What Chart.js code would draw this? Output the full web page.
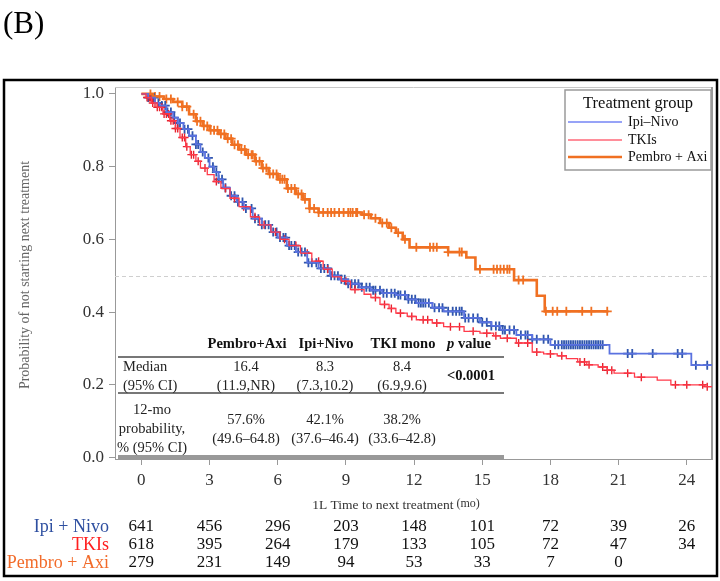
<!DOCTYPE html>
<html>
<head>
<meta charset="utf-8">
<script src="https://cdn.jsdelivr.net/npm/chart.js@4.4.1/dist/chart.umd.min.js"></script>
<style>
  html, body { margin: 0; padding: 0; background: #fff; }
  #wrap { width: 720px; height: 581px; }
</style>
</head>
<body>
<div id="wrap"><canvas id="kmChart" width="720" height="581"></canvas></div>
<script>
// KM steps: time (mo) where the curve drops, and the value after the drop
const ipiTimes = [0, 0.3, 0.6, 0.8, 1.1, 1.4, 1.6, 1.85, 2.1, 2.4, 2.6, 2.8, 3.0, 3.2, 3.4, 3.6, 3.9, 4.2, 4.5, 4.9, 5.3, 5.7, 6.0, 6.4, 6.8, 7.3, 7.8, 8.3, 8.7, 9.1, 9.6, 10.1, 10.6, 11.2, 11.7, 12.1, 12.8, 13.3, 14.2, 14.9, 15.4, 15.8, 16.5, 17.2, 18.0, 20.6, 24.2, 25.15];
const ipiSurv  = [1.0, 0.99, 0.975, 0.968, 0.95, 0.935, 0.92, 0.903, 0.885, 0.861, 0.84, 0.824, 0.80, 0.785, 0.765, 0.742, 0.72, 0.703, 0.685, 0.657, 0.64, 0.62, 0.605, 0.583, 0.565, 0.536, 0.52, 0.50, 0.49, 0.478, 0.468, 0.46, 0.452, 0.447, 0.435, 0.425, 0.412, 0.402, 0.384, 0.372, 0.362, 0.351, 0.337, 0.325, 0.31, 0.286, 0.254, 0.254];

const tkiTimes = [0, 0.2, 0.45, 0.7, 0.95, 1.25, 1.5, 1.7, 1.95, 2.15, 2.4, 2.6, 2.9, 3.2, 3.5, 3.9, 4.3, 4.8, 5.2, 5.7, 6.1, 6.5, 7.0, 7.5, 8.0, 8.4, 8.8, 9.2, 9.8, 10.1, 10.5, 10.9, 11.2, 11.7, 12.1, 12.8, 13.3, 14.2, 14.9, 15.5, 15.8, 16.5, 17.2, 17.7, 18.3, 18.7, 19.2, 19.6, 20.1, 20.5, 20.8, 21.7, 22.7, 23.3, 24.8, 25.15];
const tkiSurv  = [1.0, 0.99, 0.975, 0.963, 0.945, 0.926, 0.905, 0.88, 0.855, 0.833, 0.815, 0.796, 0.778, 0.759, 0.74, 0.713, 0.69, 0.662, 0.64, 0.62, 0.6, 0.583, 0.562, 0.54, 0.518, 0.497, 0.485, 0.462, 0.449, 0.44, 0.421, 0.41, 0.397, 0.388, 0.379, 0.37, 0.36, 0.347, 0.342, 0.335, 0.328, 0.315, 0.29, 0.285, 0.28, 0.272, 0.263, 0.255, 0.249, 0.24, 0.232, 0.221, 0.213, 0.2, 0.195, 0.195];

const pembroTimes = [0, 0.5, 1.0, 1.4, 1.8, 2.1, 2.4, 2.7, 3.0, 3.4, 3.7, 4.0, 4.3, 4.6, 5.0, 5.3, 5.6, 6.0, 6.4, 6.8, 7.1, 7.4, 7.8, 9.7, 10.1, 10.5, 10.9, 11.2, 11.5, 11.8, 13.5, 14.3, 14.7, 16.4, 17.4, 17.75, 20.55];
const pembroSurv  = [1.0, 0.993, 0.986, 0.978, 0.965, 0.944, 0.925, 0.912, 0.9, 0.89, 0.877, 0.86, 0.847, 0.833, 0.815, 0.796, 0.78, 0.765, 0.74, 0.725, 0.71, 0.685, 0.674, 0.668, 0.658, 0.645, 0.632, 0.618, 0.6, 0.578, 0.565, 0.55, 0.518, 0.488, 0.445, 0.402, 0.402];

// censor times (mo)
const ipiCensor = [0.3, 0.45, 0.55, 0.75, 0.9, 1.05, 1.15, 1.3, 1.45, 1.6, 1.7, 1.9, 2.05, 2.25, 2.4, 2.5, 2.7, 2.95, 3.15, 3.3, 3.4, 3.55, 3.7, 3.95, 4.1, 4.25, 4.45, 4.6, 4.85, 5.0, 5.15, 5.3, 5.45, 5.6, 5.8, 5.95, 6.1, 6.25, 6.35, 6.5, 6.6, 6.75, 6.9, 7.05, 7.2, 7.35, 7.5, 7.7, 7.9, 8.05, 8.2, 8.35, 8.5, 8.65, 8.8, 8.95, 9.1, 9.25, 9.4, 9.55, 9.7, 9.9, 10.05, 10.2, 10.3, 10.5, 10.65, 10.8, 11.0, 11.15, 11.3, 11.4, 11.6, 11.75, 11.9, 12.05, 12.2, 12.3, 12.4, 12.5, 12.65, 12.9, 13.1, 13.25, 13.5, 13.7, 13.85, 14.0, 14.1, 14.25, 14.4, 14.6, 14.8, 15.0, 15.2, 15.4, 15.6, 15.75, 15.9, 16.0, 16.2, 16.4, 16.7, 16.9, 17.0, 17.2, 17.4, 17.7, 17.9, 18.2, 18.35, 18.5, 18.6, 18.7, 18.8, 18.9, 19.0, 19.1, 19.2, 19.3, 19.4, 19.5, 19.6, 19.7, 19.8, 19.9, 20.0, 20.1, 20.2, 20.3, 21.4, 21.6, 22.5, 23.6, 23.8, 24.4, 24.9];
const tkiCensor = [0.25, 0.35, 0.4, 0.5, 0.6, 0.7, 0.8, 0.9, 1.0, 1.1, 1.2, 1.3, 1.4, 1.5, 1.6, 1.8, 1.9, 2.0, 2.2, 2.3, 2.5, 2.8, 3.3, 3.7, 4.1, 4.5, 5.0, 5.4, 5.9, 6.3, 6.8, 7.3, 7.8, 8.2, 9.0, 9.4, 10.3, 10.7, 11.0, 11.4, 11.9, 12.4, 12.6, 13.0, 13.6, 14.0, 14.6, 15.2, 15.6, 16.1, 16.6, 17.0, 17.4, 18.0, 18.5, 19.3, 19.5, 19.7, 20.3, 20.5, 20.7, 21.4, 22.0, 23.5, 24.0, 24.7, 24.9];
const pembroCensor = [0.4, 0.6, 0.8, 1.1, 1.3, 1.6, 1.8, 2.0, 2.3, 2.45, 2.6, 2.75, 2.9, 3.05, 3.2, 3.35, 3.5, 3.65, 3.8, 3.95, 4.1, 4.25, 4.4, 4.55, 4.7, 4.85, 4.9, 5.05, 5.2, 5.35, 5.5, 5.65, 5.8, 5.95, 6.1, 6.2, 6.3, 6.45, 6.6, 6.75, 6.9, 7.05, 7.2, 7.4, 7.6, 7.8, 8.0, 8.2, 8.35, 8.5, 8.7, 8.9, 9.1, 9.2, 9.3, 9.45, 9.5, 9.8, 10.0, 10.3, 10.6, 10.8, 11.0, 11.3, 11.6, 12.1, 12.7, 12.85, 13.0, 13.5, 14.0, 14.1, 14.9, 15.5, 15.65, 15.8, 15.95, 16.1, 16.2, 16.6, 16.8, 17.8, 18.1, 18.3, 18.7, 19.4, 19.8, 20.5];

const xTicks = [0, 3, 6, 9, 12, 15, 18, 21, 24];
const yTicks = [0, 0.2, 0.4, 0.6, 0.8, 1.0];

// numbers at risk
const riskLabels = ['Ipi + Nivo', 'TKIs', 'Pembro + Axi'];
const riskIpi = [641, 456, 296, 203, 148, 101, 72, 39, 26];
const riskTki = [618, 395, 264, 179, 133, 105, 72, 47, 34];
const riskPembro = [279, 231, 149, 94, 53, 33, 7, 0];

// inset summary table
const tableHeads = ['Pembro+Axi', 'Ipi+Nivo', 'TKI mono'];
const medianVals = ['16.4', '8.3', '8.4'];
const medianCIs = ['(11.9,NR)', '(7.3,10.2)', '(6.9,9.6)'];
const probVals = ['57.6%', '42.1%', '38.2%'];
const probCIs = ['(49.6–64.8)', '(37.6–46.4)', '(33.6–42.8)'];
const pValue = '<0.0001';

const SERIF = "'Liberation Serif', 'Times New Roman', serif";
const BLUE = '#5a72e0', BLUE_MARK = '#2f55ac';
const RED = '#ff3a4a', RED_MARK = '#e8222e';
const ORANGE = '#f07022';

function toPoints(ts, ss) {
    return ts.map((t, i) => ({ x: t, y: ss[i] }));
}

function stepAt(ts, ss, t) {
    let v = ss[0];
    for (let i = 0; i < ts.length; i++) {
        if (ts[i] <= t) v = ss[i];
    }
    return v;
}

function censorPoints(cs, ts, ss) {
    return cs.map(t => ({ x: t, y: stepAt(ts, ss, t) }));
}

function curve(label, ts, ss, color, width) {
    return {
        label: label, data: toPoints(ts, ss), borderColor: color, borderWidth: width,
        stepped: true, pointRadius: 0, fill: false
    };
}

function marks(cs, ts, ss, color, r, w) {
    return {
        data: censorPoints(cs, ts, ss), showLine: false, pointStyle: 'cross',
        pointRadius: r, pointBorderWidth: w, borderColor: color, backgroundColor: color
    };
}

function font(size, weight, style) {
    return (style || '') + ' ' + (weight || '') + ' ' + size + 'px ' + SERIF;
}

const decorPlugin = {
    id: 'decor',
    beforeDraw(chart) {
        const ctx = chart.ctx;
        ctx.save();
        ctx.fillStyle = '#fff';
        ctx.fillRect(0, 0, chart.width, chart.height);
        ctx.restore();
    },
    beforeDatasetsDraw(chart) {
        const ctx = chart.ctx, a = chart.chartArea, y = chart.scales.y;
        ctx.save();
        // reference line at 0.5
        ctx.strokeStyle = '#cfcfcf';
        ctx.lineWidth = 1;
        ctx.setLineDash([4, 3]);
        const yp = Math.round(y.getPixelForValue(0.5)) + 0.5;
        ctx.beginPath(); ctx.moveTo(a.left, yp); ctx.lineTo(a.right, yp); ctx.stroke();
        ctx.setLineDash([]);
        // top and right border of plot area
        ctx.strokeStyle = '#c8c8c8';
        ctx.beginPath(); ctx.moveTo(a.left, a.top + 0.5); ctx.lineTo(a.right, a.top + 0.5); ctx.stroke();
        ctx.strokeStyle = '#999';
        ctx.lineWidth = 2;
        ctx.beginPath(); ctx.moveTo(a.right, a.top); ctx.lineTo(a.right, a.bottom); ctx.stroke();
        ctx.restore();
    },
    afterDraw(chart) {
        const ctx = chart.ctx, xs = chart.scales.x;
        ctx.save();

        // panel label
        ctx.fillStyle = '#000';
        ctx.font = font(31);
        ctx.textAlign = 'left';
        ctx.textBaseline = 'alphabetic';
        ctx.fillText('(B)', 3, 33);

        // outer frame
        ctx.strokeStyle = '#000';
        ctx.lineWidth = 2.5;
        ctx.strokeRect(4, 80, 713, 496);

        // inset table
        const cols = [247, 326, 403];
        ctx.fillStyle = '#111';
        ctx.textBaseline = 'middle';
        ctx.textAlign = 'center';
        ctx.font = font(14.5, 'bold');
        tableHeads.forEach((h, i) => ctx.fillText(h, cols[i], 344));
        // "p value" with italic p
        ctx.font = font(14.5, 'bold', 'italic');
        const pw = ctx.measureText('p').width;
        ctx.font = font(14.5, 'bold');
        const vw = ctx.measureText(' value').width;
        const px0 = 469 - (pw + vw) / 2;
        ctx.textAlign = 'left';
        ctx.font = font(14.5, 'bold', 'italic');
        ctx.fillText('p', px0, 344);
        ctx.font = font(14.5, 'bold');
        ctx.fillText(' value', px0 + pw, 344);

        ctx.strokeStyle = '#777';
        ctx.lineWidth = 2;
        ctx.beginPath(); ctx.moveTo(118, 357); ctx.lineTo(504, 357); ctx.stroke();
        ctx.beginPath(); ctx.moveTo(118, 393); ctx.lineTo(504, 393); ctx.stroke();
        ctx.strokeStyle = '#999';
        ctx.lineWidth = 4;
        ctx.beginPath(); ctx.moveTo(118, 457); ctx.lineTo(504, 457); ctx.stroke();

        ctx.font = font(14.5);
        ctx.fillStyle = '#222';
        ctx.textAlign = 'left';
        ctx.fillText('Median', 123, 367);
        ctx.fillText('(95% CI)', 123, 386);
        ctx.textAlign = 'center';
        medianVals.forEach((v, i) => ctx.fillText(v, cols[i] - 1, 367));
        medianCIs.forEach((v, i) => ctx.fillText(v, cols[i] - 1, 386));
        ctx.fillText('12-mo', 152, 410);
        ctx.fillText('probability,', 152, 429);
        ctx.fillText('% (95% CI)', 152, 448);
        probVals.forEach((v, i) => ctx.fillText(v, cols[i] - 1, 420));
        probCIs.forEach((v, i) => ctx.fillText(v, cols[i] - 1, 439));
        ctx.font = font(14.5, 'bold');
        ctx.fillStyle = '#111';
        ctx.fillText(pValue, 471, 376);

        // legend
        ctx.strokeStyle = '#9a9a9a';
        ctx.lineWidth = 1.5;
        ctx.strokeRect(565, 90, 146, 80);
        ctx.fillStyle = '#111';
        ctx.font = font(16.5);
        ctx.textAlign = 'center';
        ctx.fillText('Treatment group', 638, 104);
        const legendRows = [
            { text: 'Ipi–Nivo', color: '#7585f5', width: 1.5, y: 122 },
            { text: 'TKIs', color: '#ff6878', width: 1.5, y: 140 },
            { text: 'Pembro + Axi', color: ORANGE, width: 2.5, y: 157 }
        ];
        ctx.font = font(14);
        ctx.textAlign = 'left';
        legendRows.forEach(r => {
            ctx.strokeStyle = r.color;
            ctx.lineWidth = r.width;
            ctx.beginPath(); ctx.moveTo(568, r.y); ctx.lineTo(622, r.y); ctx.stroke();
            ctx.fillStyle = '#111';
            ctx.fillText(r.text, 628, r.y);
        });

        // y axis title
        ctx.save();
        ctx.translate(25, 275);
        ctx.rotate(-Math.PI / 2);
        ctx.fillStyle = '#666';
        ctx.font = font(14);
        ctx.textAlign = 'center';
        ctx.fillText('Probability of not starting next treatment', 0, 0);
        ctx.restore();

        // x axis title
        ctx.fillStyle = '#333';
        ctx.font = font(13.5);
        const t1 = '1L Time to next treatment';
        const w1 = ctx.measureText(t1).width;
        ctx.font = font(12);
        const t2 = ' (mo)';
        const w2 = ctx.measureText(t2).width;
        const tx0 = 396 - (w1 + w2) / 2;
        ctx.textAlign = 'left';
        ctx.font = font(13.5);
        ctx.fillText(t1, tx0, 505);
        ctx.font = font(12);
        ctx.fillText(t2, tx0 + w1, 504);

        // numbers at risk
        const riskRows = [
            { vals: riskIpi, color: '#2e4fa0', y: 527 },
            { vals: riskTki, color: '#ff1f1f', y: 545 },
            { vals: riskPembro, color: '#f26b2a', y: 563 }
        ];
        riskRows.forEach((r, i) => {
            ctx.font = font(18);
            ctx.textAlign = 'right';
            ctx.fillStyle = r.color;
            ctx.fillText(riskLabels[i], 109, r.y);
            ctx.font = font(17);
            ctx.textAlign = 'center';
            ctx.fillStyle = '#111';
            r.vals.forEach((v, j) => ctx.fillText(String(v), xs.getPixelForValue(xTicks[j]), r.y));
        });

        ctx.restore();
    }
};

new Chart(document.getElementById('kmChart'), {
    type: 'line',
    data: {
        datasets: [
            curve('TKIs', tkiTimes, tkiSurv, RED, 1.3),
            curve('Ipi-Nivo', ipiTimes, ipiSurv, BLUE, 1.8),
            curve('Pembro + Axi', pembroTimes, pembroSurv, ORANGE, 2.6),
            marks(tkiCensor, tkiTimes, tkiSurv, RED_MARK, 4, 1.4),
            marks(ipiCensor, ipiTimes, ipiSurv, BLUE_MARK, 4.5, 1.8),
            marks(pembroCensor, pembroTimes, pembroSurv, ORANGE, 4.5, 1.8)
        ]
    },
    options: {
        responsive: false,
        animation: false,
        devicePixelRatio: 1,
        layout: { padding: { top: 87, right: 8, left: 0, bottom: 0 } },
        plugins: { legend: { display: false }, tooltip: { enabled: false } },
        scales: {
            x: {
                type: 'linear', min: -1.16, max: 25.11,
                afterBuildTicks: s => { s.ticks = xTicks.map(v => ({ value: v })); },
                afterFit: s => { s.height = 122; },
                ticks: {
                    font: { family: SERIF, size: 17 }, color: '#333', padding: 5,
                    autoSkip: false, maxRotation: 0, callback: v => String(v)
                },
                grid: { drawOnChartArea: false, drawTicks: true, tickLength: 6, color: '#999' },
                border: { color: '#999', width: 1 }
            },
            y: {
                type: 'linear', min: -0.004, max: 1.019,
                afterBuildTicks: s => { s.ticks = yTicks.map(v => ({ value: v })); },
                afterFit: s => { s.width = 115; },
                ticks: {
                    font: { family: SERIF, size: 17 }, color: '#333', padding: 5,
                    callback: v => v.toFixed(1)
                },
                grid: { drawOnChartArea: false, drawTicks: true, tickLength: 6, color: '#999' },
                border: { color: '#999', width: 1 }
            }
        }
    },
    plugins: [decorPlugin]
});
</script>
</body>
</html>
